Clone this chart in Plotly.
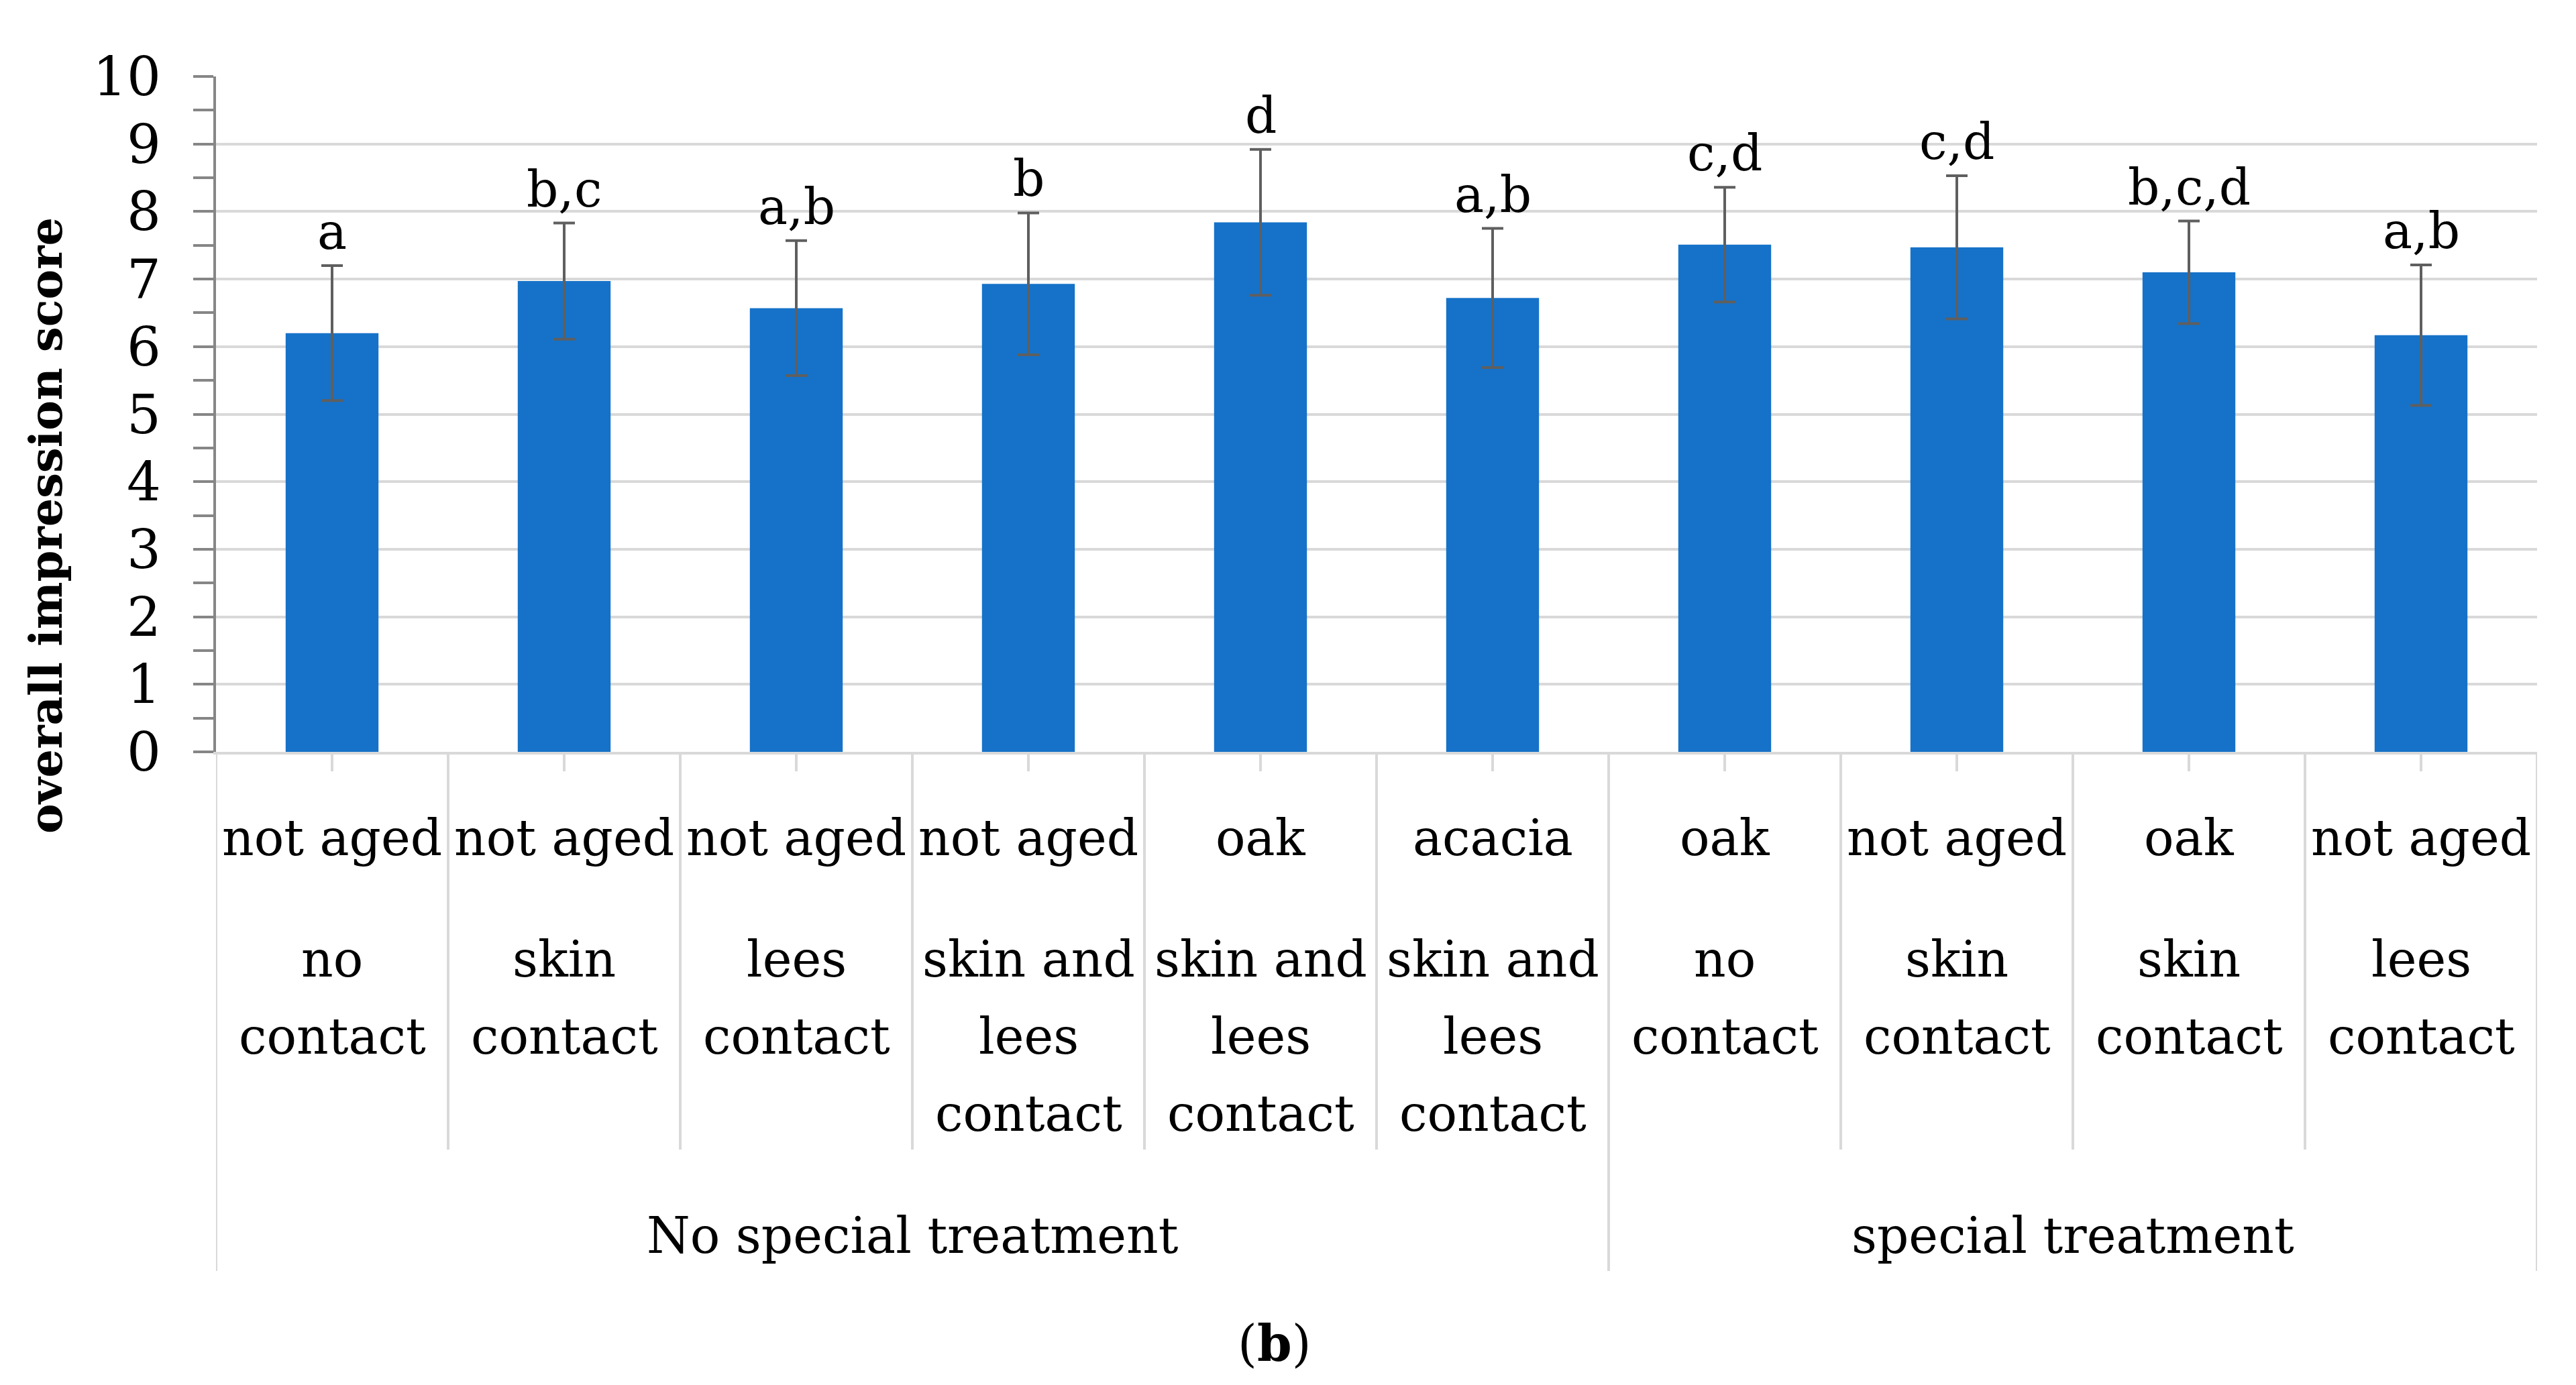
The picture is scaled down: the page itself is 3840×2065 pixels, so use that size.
import plotly.graph_objects as go

# ---------------- data ----------------
group_names = ["No special treatment", "special treatment"]
group_sizes = [6, 4]
aging = ["not aged", "not aged", "not aged", "not aged", "oak",
         "acacia", "oak", "not aged", "oak", "not aged"]
contact = ["no\ncontact", "skin\ncontact", "lees\ncontact",
           "skin and\nlees\ncontact", "skin and\nlees\ncontact",
           "skin and\nlees\ncontact", "no\ncontact", "skin\ncontact",
           "skin\ncontact", "lees\ncontact"]
means = [6.20, 6.97, 6.57, 6.93, 7.84, 6.72, 7.51, 7.47, 7.10, 6.17]
errors = [1.00, 0.86, 1.00, 1.05, 1.08, 1.03, 0.85, 1.06, 0.76, 1.04]
letters = ["a", "b,c", "a,b", "b", "d", "a,b", "c,d", "c,d", "b,c,d", "a,b"]
y_ticks = list(range(0, 11))

# ---------------- layout constants ----------------
# page body has an 8px default margin; figure sized to fit the window
OFF = 8
W, H = 3840 - 2 * OFF, 2065 - 2 * OFF
PL, PR, PT, PB = 322, 3782, 114, 1121          # plot area in window pixels
L, T = PL - OFF, PT - OFF
R = W - L - (PR - PL)
B = H - T - (PB - PT)
FONT = "DejaVu Serif"
BLUE = "#1672C8"
GRID = "#d9d9d9"
AX = "#868686"


def py(pix):
    """window pixel row -> paper y"""
    return (PB - pix) / (PB - PT)


def px(pix):
    """window pixel column -> paper x"""
    return (pix - PL) / (PR - PL)


x = list(range(len(means)))

fig = go.Figure()
fig.add_trace(go.Bar(
    x=x, y=means, width=0.4, marker=dict(color=BLUE, line=dict(width=0)),
    error_y=dict(type="data", array=errors, visible=True,
                 color="#5f5f5f", thickness=4, width=16),
    showlegend=False, hoverinfo="skip"))

annotations = []
# significance letters
for i, (m, e, t) in enumerate(zip(means, errors, letters)):
    annotations.append(dict(x=i, y=m + e, xref="x", yref="y", text=t,
                            showarrow=False, yanchor="bottom", yshift=6,
                            font=dict(family=FONT, size=74, color="black")))

# category labels
FS = 74
center_off = 0.346 * FS
for i in x:
    annotations.append(dict(x=i, y=py(1275 - center_off), xref="x", yref="paper",
                            text=aging[i], showarrow=False, yanchor="middle",
                            font=dict(family=FONT, size=FS, color="black")))
    for j, line in enumerate(contact[i].split("\n")):
        annotations.append(dict(x=i, y=py(1456 + 115 * j - center_off),
                                xref="x", yref="paper", text=line,
                                showarrow=False, yanchor="middle",
                                font=dict(family=FONT, size=FS, color="black")))

# group labels
start = 0
bounds = [-0.5]
for g, n in zip(group_names, group_sizes):
    annotations.append(dict(x=start + (n - 1) / 2, y=py(1868 - center_off),
                            xref="x", yref="paper", text=g, showarrow=False,
                            yanchor="middle",
                            font=dict(family=FONT, size=FS, color="black")))
    start += n
    bounds.append(start - 0.5)

# y-axis title
annotations.append(dict(x=px(68), y=py(784), xref="paper", yref="paper",
                        text="<b>overall impression score</b>", textangle=-90,
                        showarrow=False, xanchor="center", yanchor="middle",
                        font=dict(family=FONT, size=67, color="black")))
# caption
annotations.append(dict(x=px(1900), y=py(2003), xref="paper", yref="paper",
                        text="(<b>b</b>)", showarrow=False,
                        xanchor="center", yanchor="middle",
                        font=dict(family=FONT, size=74, color="black")))

# divider lines
shapes = []
for k in range(len(means) + 1):
    xb = k - 0.5
    bottom = py(1895) if xb in bounds else py(1714)
    shapes.append(dict(type="line", xref="x", yref="paper", x0=xb, x1=xb,
                       y0=0, y1=bottom, line=dict(color=GRID, width=4),
                       layer="below"))

fig.update_layout(
    width=W, height=H,
    margin=dict(l=L, r=R, t=T, b=B, pad=0),
    paper_bgcolor="white", plot_bgcolor="white",
    bargap=0.6,
    annotations=annotations, shapes=shapes,
    font=dict(family=FONT, color="black"),
)
fig.update_xaxes(range=[-0.5, 9.5], tickvals=x, showticklabels=False,
                 showgrid=False, zeroline=False, showline=True,
                 linecolor=GRID, linewidth=4, ticks="outside",
                 tickcolor=GRID, ticklen=25, tickwidth=4)
fig.update_yaxes(range=[0, 10], tickvals=y_ticks, showgrid=True,
                 gridcolor=GRID, gridwidth=4, zeroline=False,
                 showline=True, linecolor=AX, linewidth=4,
                 ticks="outside", tickcolor=AX, ticklen=30, tickwidth=4,
                 tickfont=dict(family=FONT, size=80, color="black"),
                 ticklabelstandoff=32,
                 minor=dict(dtick=0.5, ticks="outside", ticklen=30,
                            tickcolor=AX, tickwidth=4, showgrid=False))

fig.write_html("out.html")
